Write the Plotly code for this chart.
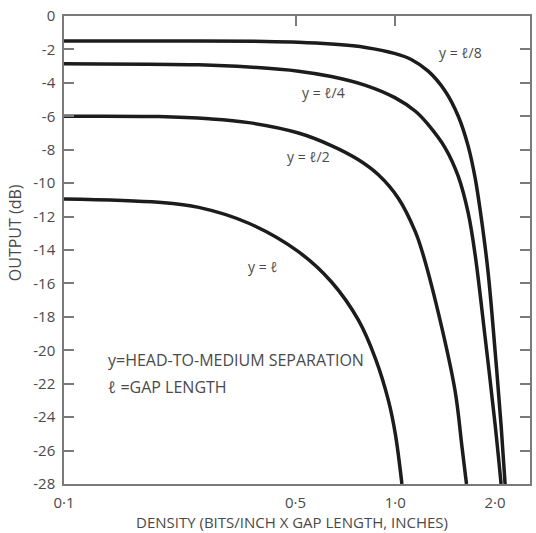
import numpy as np
import plotly.graph_objects as go

# Density (bits/inch x gap length) and output (dB) for each head-to-medium separation
density_l8 = [0.10, 0.255, 0.405, 0.51, 0.641, 0.813, 1.0, 1.117, 1.257, 1.415,
              1.549, 1.66, 1.742, 1.815, 1.905, 2.00, 2.086, 2.145]
output_l8 = [-1.5, -1.5, -1.52, -1.57, -1.68, -1.88, -2.25, -2.6, -3.3, -4.5,
             -6.0, -7.8, -9.7, -12.0, -15.3, -20.0, -24.5, -28.0]

density_l4 = [0.10, 0.255, 0.361, 0.51, 0.641, 0.813, 1.0, 1.15, 1.257, 1.415,
              1.549, 1.66, 1.742, 1.866, 2.00, 2.086]
output_l4 = [-2.85, -2.92, -3.05, -3.3, -3.62, -4.15, -4.9, -5.7, -6.5, -7.9,
             -9.6, -11.8, -14.3, -19.2, -24.4, -28.0]

density_l2 = [0.10, 0.193, 0.274, 0.361, 0.51, 0.641, 0.774, 0.889, 1.021, 1.149,
              1.214, 1.376, 1.517, 1.59, 1.64]
output_l2 = [-6.0, -6.02, -6.15, -6.38, -7.0, -7.75, -8.6, -9.5, -10.9, -12.9,
             -14.3, -18.5, -22.5, -25.8, -28.0]

density_l1 = [0.10, 0.193, 0.255, 0.361, 0.51, 0.641, 0.774, 0.871, 0.953, 1.0, 1.047]
output_l1 = [-10.95, -11.15, -11.45, -12.4, -14.1, -15.9, -18.2, -20.5, -23.0, -25.0, -28.0]

x_tickvals = [0.1, 0.5, 1.0, 2.0]
x_ticktext = ["0·1", "0·5", "1·0", "2·0"]
y_tickvals = list(range(0, -29, -2))
y_ticktext = ["0"] + ["-" + str(abs(v)) for v in y_tickvals[1:]]

# Curve labels: (text, density, output)
curve_labels = [
    ("y = ℓ/8", 1.57, -2.2),
    ("y = ℓ/4", 0.607, -4.55),
    ("y = ℓ/2", 0.547, -8.4),
    ("y = ℓ", 0.40, -15.0),
]

FONT = "'Open Sans', Lato, sans-serif"
TEXT_COLOR = "#4a4a4a"
AXIS_COLOR = "#7a7a7a"
X_RANGE = [-1.0, np.log10(2.55)]

fig = go.Figure()
for xs, ys in [(density_l8, output_l8), (density_l4, output_l4),
               (density_l2, output_l2), (density_l1, output_l1)]:
    fig.add_trace(go.Scatter(
        x=xs, y=ys, mode="lines",
        line=dict(color="#1c1c1c", width=3.5, shape="spline", smoothing=1.0),
        showlegend=False, hoverinfo="skip", cliponaxis=True,
    ))

# invisible trace on the top axis so that its ticks are drawn
fig.add_trace(go.Scatter(x=[0.1, 2.5], y=[-30, -30], xaxis="x2", mode="lines",
                         line=dict(width=0), showlegend=False, hoverinfo="skip"))

for text, d, v in curve_labels:
    fig.add_annotation(x=np.log10(d), y=v, xref="x", yref="y", text=text,
                       showarrow=False, font=dict(family=FONT, size=14, color=TEXT_COLOR))

fig.add_annotation(x=np.log10(0.134), y=-20.6, xref="x", yref="y", xanchor="left",
                   text="y=HEAD-TO-MEDIUM SEPARATION", showarrow=False,
                   font=dict(family=FONT, size=16, color=TEXT_COLOR))
fig.add_annotation(x=np.log10(0.134), y=-22.2, xref="x", yref="y", xanchor="left",
                   text="ℓ =GAP LENGTH", showarrow=False,
                   font=dict(family=FONT, size=16, color=TEXT_COLOR))

# vertical axis title
fig.add_annotation(x=-0.105, y=0.536, xref="paper", yref="paper", text="OUTPUT (dB)",
                   textangle=-90, showarrow=False, xanchor="center", yanchor="middle",
                   font=dict(family=FONT, size=16, color=TEXT_COLOR))

# horizontal axis title
fig.add_annotation(x=0.49, y=0, xref="paper", yref="paper", yshift=-38,
                   text="DENSITY (BITS/INCH X GAP LENGTH, INCHES)",
                   showarrow=False, xanchor="center", yanchor="middle",
                   font=dict(family=FONT, size=15, color=TEXT_COLOR))

fig.update_layout(
    width=536, height=533,
    margin=dict(l=64, r=4, t=16, b=49),
    paper_bgcolor="white", plot_bgcolor="white",
    font=dict(family=FONT, size=15, color=TEXT_COLOR),
    xaxis=dict(
        type="log", range=X_RANGE, tickvals=x_tickvals, ticktext=x_ticktext,
        ticks="", showgrid=False, zeroline=False,
        showline=True, linecolor=AXIS_COLOR, linewidth=1.5, mirror=True,
        ticklabelstandoff=4,
    ),
    xaxis2=dict(
        type="log", range=X_RANGE, overlaying="x", side="top",
        tickvals=[0.5, 1.0], ticks="inside", ticklen=10, tickwidth=1.5,
        tickcolor=AXIS_COLOR, showticklabels=False, showgrid=False, zeroline=False,
        showline=False,
    ),
    yaxis=dict(
        range=[-28, 0], tickvals=y_tickvals, ticktext=y_ticktext,
        ticks="inside", ticklen=10, tickwidth=1.5, tickcolor=AXIS_COLOR,
        showgrid=False, zeroline=False,
        showline=True, linecolor=AXIS_COLOR, linewidth=1.5, mirror="ticks",
        ticklabelstandoff=4,
    ),
)

fig.write_html("out.html")
